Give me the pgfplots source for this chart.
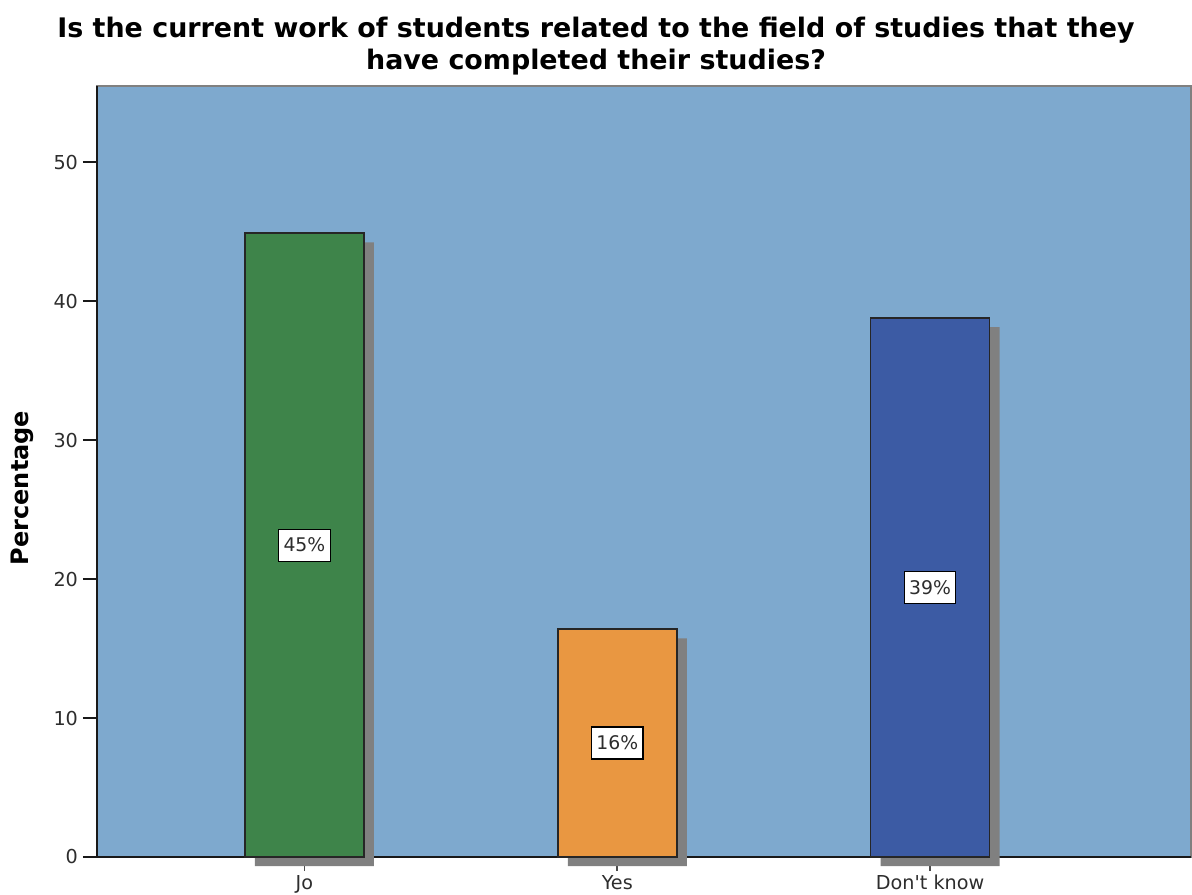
\documentclass[border=0pt]{standalone}
\usepackage{fontspec}
\setmainfont{DejaVu Sans}
\usepackage{pgfplots}
\usepackage{pgfplotstable}
\pgfplotsset{compat=1.18}

\definecolor{bgblue}{RGB}{126,169,206}
\definecolor{barjo}{RGB}{62,132,74}
\definecolor{baryes}{RGB}{233,151,65}
\definecolor{bardk}{RGB}{60,91,164}
\definecolor{shadowgray}{RGB}{128,128,128}
\definecolor{ticktext}{RGB}{45,45,45}

% share of respondents per answer (percent)
\pgfplotstableread{
x v
0 44.9
1 16.4
2 38.8
}\resp

\begin{document}
\begin{tikzpicture}
\begin{axis}[
  at={(48.5pt,18.5pt)}, anchor=south west,
  scale only axis, width=547pt, height=385.5pt,
  xmin=-0.663, xmax=2.834, ymin=0, ymax=55.5,
  axis lines=left,
  axis line style={-, black!90, line width=1pt},
  axis background/.style={fill=bgblue, draw=gray, line width=0.7pt},
  clip=false,
  ytick={0,10,20,30,40,50},
  xtick={0,1,2}, xticklabels={Jo,Yes,Don\textquotesingle t know},
  tick align=outside, major tick length=7pt,
  y tick style={black!90, line width=0.9pt},
  x tick style={black!70, line width=0.9pt},
  tick label style={font=\fontsize{9.6}{11}\selectfont, text=ticktext},
  /pgf/number format/assume math mode=true,
  yticklabel style={xshift=1pt},
  xticklabel style={yshift=1.5pt},
  ylabel={Percentage},
  ylabel style={at={(axis description cs:-0.0686,0.4786)}, anchor=center,
    font=\bfseries\fontsize{12}{13}\selectfont},
]
% drop shadows behind the bars
\addplot[ybar, bar width=59.5pt, bar shift=5pt, yshift=-4.6pt,
  fill=shadowgray, draw=none] table[x=x, y=v] {\resp};
% bars
\addplot[ybar, bar width=59.5pt, bar shift=0pt, fill=barjo,
  draw=black!85, line width=0.8pt] coordinates {(0,44.9)};
\addplot[ybar, bar width=59.5pt, bar shift=0pt, fill=baryes,
  draw=black!85, line width=0.8pt] coordinates {(1,16.4)};
\addplot[ybar, bar width=59.5pt, bar shift=0pt, fill=bardk,
  draw=black!85, line width=0.8pt] coordinates {(2,38.8)};
% value labels at half bar height
\addplot[draw=none, mark=none, point meta=explicit,
  nodes near coords={\pgfmathprintnumber[fixed,precision=0]{\pgfplotspointmeta}\%},
  nodes near coords align={center},
  every node near coord/.append style={anchor=center, fill=white, draw=black,
    line width=0.6pt, inner xsep=2.4pt, inner ysep=0pt, minimum height=16pt,
    text=ticktext, font=\fontsize{9.4}{11}\selectfont}]
  table[x=x, y expr=\thisrow{v}/2, meta=v] {\resp};
\end{axis}
\node[font=\bfseries\fontsize{13.45}{16}\selectfont, align=center, text=black]
  at (298pt,424pt) {Is the current work of students related to the field of studies that they\\have completed their studies?};
\pgfresetboundingbox
\path[use as bounding box] (0,0) rectangle (596pt,447pt);
\end{tikzpicture}
\end{document}
